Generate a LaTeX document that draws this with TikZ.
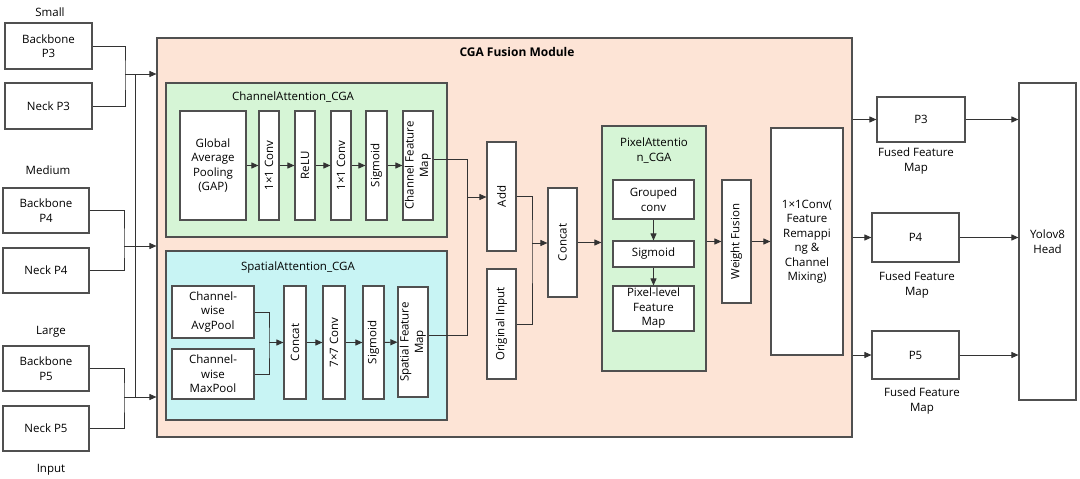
\documentclass[tikz,border=0pt]{standalone}
\usepackage{fontspec}
\setmainfont{Open Sans}
\usetikzlibrary{arrows.meta,positioning,calc}
\definecolor{peach}{HTML}{FDE4D6}
\definecolor{mint}{HTML}{D6F5D6}
\definecolor{aqua}{HTML}{C8F4F4}
\definecolor{edge}{HTML}{505050}
\tikzset{
box/.style={draw=edge,line width=1.1pt,fill=white,inner sep=1pt,align=center,font=\fontsize{11.5}{14.5}\selectfont},
vbox/.style={box,rotate=90},
group/.style={draw=edge,line width=1.1pt,inner sep=0pt},
lbl/.style={align=center,font=\fontsize{11.5}{14.5}\selectfont},
flow/.style={-{Triangle[length=7pt,width=6pt]},line width=0.9pt,draw=black!80},
link/.style={line width=0.9pt,draw=black!80}
}
\begin{document}
\begin{tikzpicture}[x=1pt,y=-1pt]
\useasboundingbox (0,0) rectangle (1080,479);
% inputs
\node[lbl](small) at (50,12){Small};
\node[box,minimum width=87,minimum height=46](bbp3) at (48.5,46){Backbone\\P3};
\node[box,minimum width=87,minimum height=46](nkp3) at (48.5,106){Neck P3};
\node[lbl](medium) at (48,170){Medium};
\node[box,minimum width=86,minimum height=45](bbp4) at (46,210.5){Backbone\\P4};
\node[box,minimum width=86,minimum height=45](nkp4) at (46,270.5){Neck P4};
\node[lbl](large) at (51,332){Large};
\node[box,minimum width=86,minimum height=45](bbp5) at (46,368.5){Backbone\\P5};
\node[box,minimum width=86,minimum height=45](nkp5) at (46,428.5){Neck P5};
\node[lbl](input) at (51,470){Input};
% fusion module
\node[group,fill=peach,minimum width=695,minimum height=399](module) at (504.5,237.5){};
\node[lbl,font=\fontsize{12}{14.5}\selectfont\bfseries](mtitle) at (517,52){CGA Fusion Module};
% channel attention
\node[group,fill=mint,minimum width=281,minimum height=154](ca) at (306.5,160){};
\node[lbl](catitle) at (293,97){ChannelAttention\_CGA};
\node[box,minimum width=66,minimum height=109](gap) at (213,165.5){Global\\Average\\Pooling\\(GAP)};
\node[vbox,minimum width=109,minimum height=20](conva) at (269,165.5){1×1 Conv};
\node[vbox,minimum width=109,minimum height=20](relu) at (305,165.5){ReLU};
\node[vbox,minimum width=109,minimum height=20](convb) at (341,165.5){1×1 Conv};
\node[vbox,minimum width=109,minimum height=21](siga) at (376.5,165.5){Sigmoid};
\node[vbox,minimum width=109,minimum height=30](cfm) at (418,165.5){Channel Feature\\Map};
% spatial attention
\node[group,fill=aqua,minimum width=281,minimum height=169](sa) at (306.5,335.5){};
\node[lbl](satitle) at (298,268){SpatialAttention\_CGA};
\node[box,minimum width=82,minimum height=52](avg) at (213,312){Channel-\\wise\\AvgPool};
\node[box,minimum width=82,minimum height=50](max) at (213,374){Channel-\\wise\\MaxPool};
\node[vbox,minimum width=113,minimum height=22](cata) at (295,342.5){Concat};
\node[vbox,minimum width=113,minimum height=22](conv7) at (334,342.5){7×7 Conv};
\node[vbox,minimum width=113,minimum height=21](sigb) at (373.5,342.5){Sigmoid};
\node[vbox,minimum width=110,minimum height=30](sfm) at (413,342){Spatial Feature\\Map};
% merge
\node[vbox,minimum width=109,minimum height=29](add) at (501.5,196.5){Add};
\node[vbox,minimum width=110,minimum height=29](orig) at (501.5,324){Original Input};
\node[vbox,minimum width=109,minimum height=29](catb) at (562.5,242.5){Concat};
% pixel attention
\node[group,fill=mint,minimum width=104,minimum height=245](pa) at (654,248.5){};
\node[lbl](patitle) at (654,150.5){PixelAttentio\\n\_CGA};
\node[box,minimum width=81,minimum height=39](gconv) at (653.5,199.5){Grouped\\conv};
\node[box,minimum width=81,minimum height=26](sigc) at (653.5,254){Sigmoid};
\node[box,minimum width=81,minimum height=45](plfm) at (653.5,308.5){Pixel-level\\Feature\\Map};
\node[vbox,minimum width=123,minimum height=29](wf) at (736.5,241.5){Weight Fusion};
\node[box,minimum width=72,minimum height=227](remap) at (807,241.5){1×1Conv(\\Feature\\Remappi\\ng \&\\Channel\\Mixing)};
% outputs
\node[box,minimum width=88,minimum height=45](p3) at (921,119.5){P3};
\node[lbl](f3) at (916,161){Fused Feature\\Map};
\node[box,minimum width=87,minimum height=49](p4) at (915.5,237.5){P4};
\node[lbl](f4) at (917,285){Fused Feature\\Map};
\node[box,minimum width=87,minimum height=48](p5) at (915.5,355){P5};
\node[lbl](f5) at (922,401){Fused Feature\\Map};
\node[box,minimum width=57,minimum height=317](head) at (1047.5,241.5){Yolov8\\Head};
% junctions
\coordinate (j3) at (125,74);
\coordinate (j4) at (124,246);
\coordinate (j5) at (124,397);
\coordinate (bustop) at (135,74);
\coordinate (busbot) at (135,397);
\coordinate (jsa) at (269,342.5);
\coordinate (caout) at (467,159);
\coordinate (saout) at (467,335);
\coordinate (jadd) at (467,197);
\coordinate (jorig) at (532,243);
% input connectors
\draw[link](bbp3.east)-|(j3)|-(nkp3.east);
\draw[link](bbp4.east)-|(j4)|-(nkp4.east);
\draw[link](bbp5.east)-|(j5)|-(nkp5.east);
\draw[flow](j3)--(j3-|module.west);
\draw[flow](j4)--(j4-|module.west);
\draw[flow](j5)--(j5-|module.west);
\draw[link](bustop)--(busbot);
% channel chain
\draw[flow](gap)--(conva);\draw[flow](conva)--(relu);\draw[flow](relu)--(convb);
\draw[flow](convb)--(siga);\draw[flow](siga)--(cfm);
% spatial chain
\draw[link](avg.east)-|(jsa)|-(max.east);
\draw[flow](jsa)--(cata);
\draw[flow](cata)--(conv7);\draw[flow](conv7)--(sigb);\draw[flow](sigb)--(sfm);
% merge
\draw[link](cfm.south|-caout)--(caout)--(saout)--(sfm.south|-saout);
\draw[flow](jadd)--(jadd-|add.north);
\draw[link](add.south|-0,196.5)-|(jorig)|-(orig.south);
\draw[flow](jorig)--(jorig-|catb.north);
\draw[flow](catb.south)--(catb.south-|pa.west);
\draw[flow](gconv)--(sigc);\draw[flow](sigc)--(plfm);
\draw[flow](pa.east|-wf)--(wf.north);
\draw[flow](wf.south)--(remap.west|-wf);
% outputs
\draw[flow](p3-|module.east)--(p3.west);
\draw[flow](p4-|module.east)--(p4.west);
\draw[flow](p5-|module.east)--(p5.west);
\draw[flow](p3.east)--(p3-|head.west);
\draw[flow](p4.east)--(p4-|head.west);
\draw[flow](p5.east)--(p5-|head.west);
\end{tikzpicture}
\end{document}
